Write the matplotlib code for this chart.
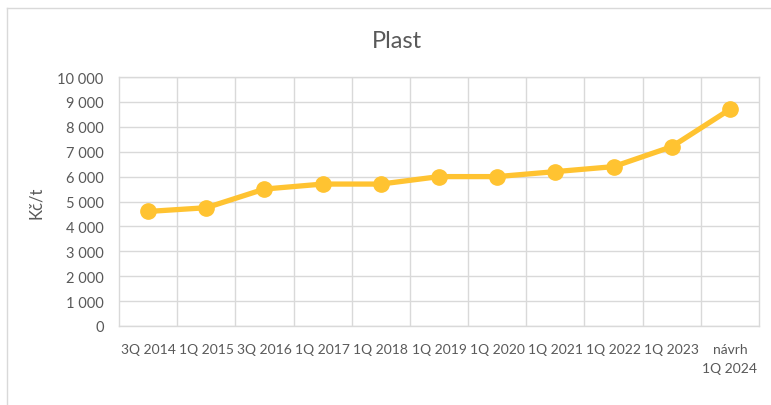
import matplotlib
matplotlib.use("Agg")
import matplotlib.pyplot as plt
from matplotlib.lines import Line2D
from matplotlib.ticker import FuncFormatter, MultipleLocator

# Data
categories = ["3Q 2014", "1Q 2015", "3Q 2016", "1Q 2017", "1Q 2018", "1Q 2019",
              "1Q 2020", "1Q 2021", "1Q 2022", "1Q 2023", "návrh\n1Q 2024"]
prices = [4600, 4750, 5500, 5700, 5700, 6000, 6000, 6200, 6400, 7200, 8700]

plt.rcParams["font.family"] = ["Lato", "DejaVu Sans"]
text_color = "#595959"
grid_color = "#D9D9D9"
line_color = "#FFC331"

W, H = 771, 406
fig = plt.figure(figsize=(W / 100, H / 100), dpi=100)
ax = fig.add_axes([119 / W, 1 - 327 / H, (759 - 119) / W, (327 - 78) / H])

x = list(range(len(categories)))
ax.plot(x, prices, color=line_color, linewidth=3.8, marker="o",
        markersize=11, solid_capstyle="round", zorder=3)

ax.set_xlim(-0.5, len(categories) - 0.5)
ax.set_ylim(0, 10000)
ax.yaxis.set_major_locator(MultipleLocator(1000))
ax.yaxis.set_major_formatter(FuncFormatter(lambda v, p: f"{int(v):,}".replace(",", " ")))

# vertical grid lines sit between the categories
ax.set_xticks([i + 0.5 for i in range(len(categories) - 1)], minor=True)
ax.set_xticks(x)
ax.set_xticklabels(categories, linespacing=1.7)
ax.grid(axis="y", color=grid_color, linewidth=1)
ax.grid(axis="x", which="minor", color=grid_color, linewidth=1)
ax.set_axisbelow(True)

for s in ax.spines.values():
    s.set_color(grid_color)
    s.set_linewidth(1)

ax.tick_params(axis="both", which="both", length=0, colors=text_color)
ax.tick_params(axis="x", pad=12, labelsize=10)
ax.tick_params(axis="y", pad=11, labelsize=10.5)
for lbl in ax.get_xticklabels():
    lbl.set_verticalalignment("top")

ax.set_ylabel("Kč/t", color=text_color, fontsize=12, labelpad=10)
fig.text(397 / W, 1 - 41 / H, "Plast", ha="center", va="center",
         color=text_color, fontsize=17)

# outer chart frame (only left and top edges visible in the crop)
fig.add_artist(Line2D([7 / W, 7 / W], [0, 1 - 9 / H], color=grid_color,
                      linewidth=1, transform=fig.transFigure))
fig.add_artist(Line2D([7 / W, 1], [1 - 9 / H, 1 - 9 / H], color=grid_color,
                      linewidth=1, transform=fig.transFigure))

fig.savefig("out.png", dpi=100)
